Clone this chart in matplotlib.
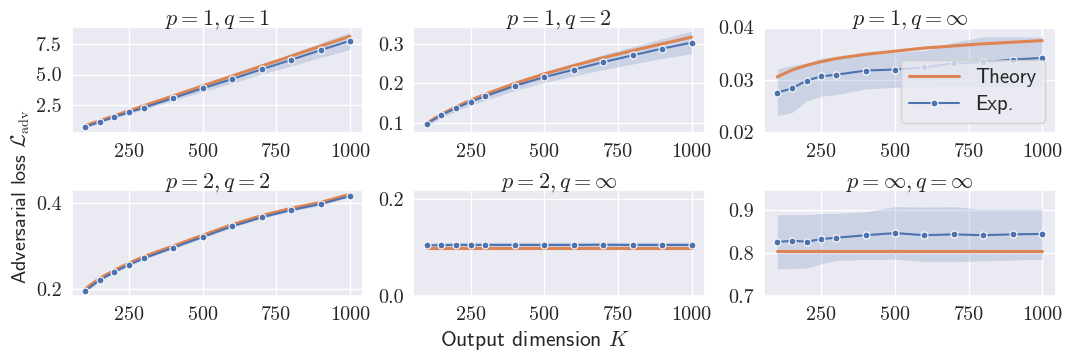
import numpy as np
import matplotlib
matplotlib.use("Agg")
import matplotlib.pyplot as plt
import seaborn as sns

sns.set_theme(style="darkgrid")
plt.rcParams['font.family'] = ['cmr10', 'DejaVu Serif']
plt.rcParams['mathtext.fontset'] = 'cm'
plt.rcParams['axes.unicode_minus'] = False

K = [100, 150, 200, 250, 300, 400, 500, 600, 700, 800, 900, 1000]

# p=1, q=1
th_11 = [0.80, 1.21, 1.62, 2.03, 2.44, 3.25, 4.07, 4.88, 5.70, 6.51, 7.33, 8.14]
ex_11 = [0.70, 1.10, 1.52, 1.90, 2.28, 3.07, 3.87, 4.63, 5.43, 6.20, 7.00, 7.77]
lo_11 = [0.62, 1.02, 1.42, 1.78, 2.13, 2.87, 3.60, 4.30, 5.03, 5.70, 6.40, 7.05]
hi_11 = [0.78, 1.18, 1.62, 2.02, 2.43, 3.27, 4.14, 4.96, 5.83, 6.70, 7.60, 8.47]

# p=1, q=2
th_12 = [0.100, 0.122, 0.141, 0.158, 0.173, 0.200, 0.224, 0.245, 0.265, 0.283, 0.300, 0.317]
ex_12 = [0.098, 0.120, 0.138, 0.154, 0.168, 0.194, 0.216, 0.235, 0.254, 0.271, 0.288, 0.303]
lo_12 = [0.092, 0.113, 0.130, 0.145, 0.158, 0.182, 0.202, 0.219, 0.235, 0.249, 0.263, 0.275]
hi_12 = [0.104, 0.127, 0.146, 0.163, 0.178, 0.206, 0.230, 0.251, 0.273, 0.293, 0.313, 0.332]

# p=1, q=inf
th_1i = [0.0306, 0.0319, 0.0328, 0.0335, 0.0341, 0.0349, 0.0355, 0.0361, 0.0365, 0.0369, 0.0372, 0.0375]
ex_1i = [0.0276, 0.0284, 0.0299, 0.0307, 0.0310, 0.0318, 0.0320, 0.0324, 0.0332, 0.0334, 0.0339, 0.0342]
lo_1i = [0.0232, 0.0238, 0.0260, 0.0269, 0.0272, 0.0283, 0.0286, 0.0287, 0.0288, 0.0288, 0.0288, 0.0288]
hi_1i = [0.0321, 0.0328, 0.0332, 0.0342, 0.0343, 0.0350, 0.0353, 0.0356, 0.0372, 0.0382, 0.0382, 0.0382]

# p=2, q=2
th_22 = [0.199, 0.224, 0.243, 0.260, 0.275, 0.300, 0.325, 0.350, 0.371, 0.388, 0.402, 0.421]
ex_22 = [0.194, 0.220, 0.239, 0.256, 0.271, 0.296, 0.321, 0.346, 0.367, 0.384, 0.398, 0.417]
lo_22 = [0.191, 0.217, 0.236, 0.253, 0.268, 0.293, 0.318, 0.343, 0.364, 0.381, 0.395, 0.414]
hi_22 = [0.197, 0.223, 0.242, 0.259, 0.274, 0.299, 0.324, 0.349, 0.370, 0.387, 0.401, 0.420]

# p=2, q=inf
th_2i = [0.100] * 12
ex_2i = [0.1045, 0.1050, 0.1055, 0.1055, 0.1055, 0.1055, 0.1055, 0.1055, 0.1058, 0.1055, 0.1055, 0.1055]
lo_2i = [0.100, 0.100, 0.100, 0.100, 0.100, 0.100, 0.100, 0.100, 0.100, 0.100, 0.100, 0.100]
hi_2i = [0.110, 0.111, 0.111, 0.111, 0.111, 0.111, 0.111, 0.111, 0.111, 0.111, 0.111, 0.111]

# p=inf, q=inf
th_ii = [0.804] * 12
ex_ii = [0.826, 0.829, 0.827, 0.833, 0.836, 0.842, 0.847, 0.842, 0.844, 0.842, 0.844, 0.845]
lo_ii = [0.763, 0.764, 0.765, 0.775, 0.783, 0.785, 0.786, 0.780, 0.780, 0.782, 0.784, 0.786]
hi_ii = [0.890, 0.890, 0.890, 0.893, 0.893, 0.897, 0.909, 0.908, 0.909, 0.903, 0.903, 0.903]

titles = [r'$p=1,q=1$', r'$p=1,q=2$', r'$p=1,q=\infty$',
          r'$p=2,q=2$', r'$p=2,q=\infty$', r'$p=\infty,q=\infty$']
theory = [th_11, th_12, th_1i, th_22, th_2i, th_ii]
exp = [ex_11, ex_12, ex_1i, ex_22, ex_2i, ex_ii]
lows = [lo_11, lo_12, lo_1i, lo_22, lo_2i, lo_ii]
highs = [hi_11, hi_12, hi_1i, hi_22, hi_2i, hi_ii]
yticks = [[2.5, 5.0, 7.5], [0.1, 0.2, 0.3], [0.02, 0.03, 0.04],
          [0.2, 0.4], [0.0, 0.2], [0.7, 0.8, 0.9]]
ylims = [(0.2, 8.9), (0.075, 0.3425), (0.0199, 0.0401),
         (0.1826, 0.431), (0.0, 0.219), (0.6995, 0.948)]

W, H = 1070, 358
fig = plt.figure(figsize=(W / 100, H / 100), dpi=100)
lefts = [71.7, 413.3, 764]
tops = [27, 190]
aw, ah = 291.5, 106

blue = sns.color_palette("deep")[0]
orange = sns.color_palette("deep")[1]

for i in range(6):
    r, c = divmod(i, 3)
    ax = fig.add_axes([lefts[c] / W, 1 - (tops[r] + ah) / H, aw / W, ah / H])
    ax.plot(K, theory[i], color=orange, lw=2.2, label='Theory')
    ax.fill_between(K, lows[i], highs[i], color=blue, alpha=0.2, lw=0)
    ax.plot(K, exp[i], color=blue, lw=1.5, marker='o', ms=5,
            markeredgecolor='white', markeredgewidth=0.8, label='Exp.')
    ax.set_title(titles[i], fontsize=16, pad=2)
    ax.set_xticks([250, 500, 750, 1000])
    ax.set_yticks(yticks[i])
    ax.set_ylim(*ylims[i])
    ax.tick_params(labelsize=14.5, pad=1)
    if i == 2:
        ax.legend(loc='lower right', prop={'family': 'cmss10', 'size': 15},
                  handlelength=2.4, borderaxespad=0.5, labelspacing=0.4)

fig.text(0.019, 0.45, r'Adversarial loss $\mathcal{L}_{\rm adv}$', rotation=90,
         ha='center', va='center', fontsize=14.5, family='cmss10')
fig.text(0.5, 0.05, r'Output dimension $K$', ha='center', va='center',
         fontsize=15.5, family='cmss10')

fig.savefig('out.png', dpi=100)
